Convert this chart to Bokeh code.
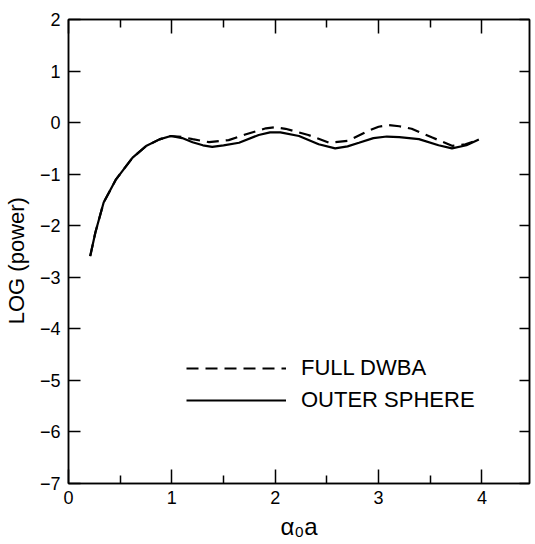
from bokeh.plotting import figure
from bokeh.models import LinearAxis, FixedTicker, Range1d, Legend, LegendItem
from bokeh.embed import file_html
from bokeh.resources import INLINE

# Data
outer_x = [0.21, 0.26, 0.34, 0.46, 0.62, 0.75, 0.88, 0.99, 1.10, 1.20, 1.30, 1.39, 1.50,
           1.65, 1.84, 1.95, 2.05, 2.23, 2.42, 2.58, 2.70, 2.81, 2.95, 3.08, 3.20, 3.39,
           3.58, 3.71, 3.85, 3.97]
outer_y = [-2.59, -2.13, -1.55, -1.10, -0.68, -0.455, -0.325, -0.26, -0.30, -0.38, -0.44,
           -0.47, -0.44, -0.39, -0.24, -0.19, -0.19, -0.26, -0.42, -0.50, -0.46, -0.39,
           -0.30, -0.27, -0.28, -0.32, -0.44, -0.50, -0.44, -0.33]

full_x = [0.21, 0.26, 0.34, 0.46, 0.62, 0.75, 0.88, 0.99, 1.10, 1.20, 1.36, 1.55, 1.71,
          1.91, 2.00, 2.10, 2.32, 2.52, 2.71, 2.90, 3.00, 3.10, 3.20, 3.32, 3.52, 3.71,
          3.84, 3.97]
full_y = [-2.59, -2.13, -1.55, -1.10, -0.68, -0.455, -0.325, -0.26, -0.28, -0.32, -0.38,
          -0.34, -0.23, -0.11, -0.09, -0.12, -0.24, -0.39, -0.35, -0.16, -0.08, -0.05,
          -0.07, -0.12, -0.29, -0.45, -0.42, -0.33]

x_ticks = [0, 1, 2, 3, 4]
x_minor = [0.5, 1.5, 2.5, 3.5]
y_ticks = [-7, -6, -5, -4, -3, -2, -1, 0, 1, 2]

FONT = "Liberation Sans"

p = figure(frame_width=461, frame_height=464, output_backend="svg", toolbar_location=None,
           x_range=Range1d(0, 4.46), y_range=Range1d(-7, 2),
           min_border_left=66, min_border_right=2, min_border_top=19, min_border_bottom=40,
           background_fill_color="white", border_fill_color="white")
p.grid.visible = False
p.outline_line_color = "black"
p.outline_line_width = 1.5

p.xaxis.ticker = FixedTicker(ticks=x_ticks, minor_ticks=x_minor)
p.yaxis.ticker = FixedTicker(ticks=y_ticks)

for ax in p.xaxis:
    ax.major_tick_in = 14
    ax.major_tick_out = 0
    ax.minor_tick_in = 8
    ax.minor_tick_out = 0
    ax.axis_line_width = 1.5
    ax.major_tick_line_width = 1.5
    ax.minor_tick_line_width = 1.5
    ax.major_label_text_font = FONT
    ax.major_label_text_font_size = "18px"
    ax.major_label_text_color = "black"
    ax.major_label_standoff = 7
    ax.axis_label = "α₀a"
    ax.axis_label_text_font = FONT
    ax.axis_label_text_font_size = "24px"
    ax.axis_label_text_font_style = "normal"
    ax.axis_label_text_color = "black"
    ax.axis_label_standoff = 6

for ax in p.yaxis:
    ax.major_tick_in = 12
    ax.major_tick_out = 0
    ax.minor_tick_in = 0
    ax.minor_tick_out = 0
    ax.axis_line_width = 1.5
    ax.major_tick_line_width = 1.5
    ax.major_label_text_font = FONT
    ax.major_label_text_font_size = "18px"
    ax.major_label_text_color = "black"
    ax.major_label_standoff = 8
    ax.axis_label = "LOG (power)\u00a0\u00a0\u00a0"
    ax.axis_label_text_font = FONT
    ax.axis_label_text_font_size = "22px"
    ax.axis_label_text_font_style = "normal"
    ax.axis_label_text_color = "black"
    ax.axis_label_standoff = 8

top = LinearAxis(ticker=FixedTicker(ticks=x_ticks, minor_ticks=x_minor),
                 major_tick_in=14, major_tick_out=0, minor_tick_in=8, minor_tick_out=0,
                 major_label_overrides={t: "" for t in x_ticks}, major_label_standoff=0,
                 axis_line_width=1.5, major_tick_line_width=1.5, minor_tick_line_width=1.5)
p.add_layout(top, "above")
right = LinearAxis(ticker=FixedTicker(ticks=y_ticks),
                   major_tick_in=10, major_tick_out=0, minor_tick_in=0, minor_tick_out=0,
                   major_label_overrides={t: "" for t in y_ticks}, major_label_standoff=0,
                   axis_line_width=1.5, major_tick_line_width=1.5)
p.add_layout(right, "right")

r_full = p.line(full_x, full_y, line_color="black", line_width=2.2, line_dash="12 7")
r_outer = p.line(outer_x, outer_y, line_color="black", line_width=2.2)

legend = Legend(items=[LegendItem(label="FULL DWBA", renderers=[r_full]),
                       LegendItem(label="OUTER SPHERE", renderers=[r_outer])],
                location=(118, 70), glyph_width=100, glyph_height=22,
                label_standoff=15, spacing=6, padding=0,
                label_text_font=FONT, label_text_font_size="22px",
                label_text_color="black",
                background_fill_alpha=0, border_line_color=None)
p.add_layout(legend, "center")

open("out.html", "w").write(file_html(p, INLINE))
